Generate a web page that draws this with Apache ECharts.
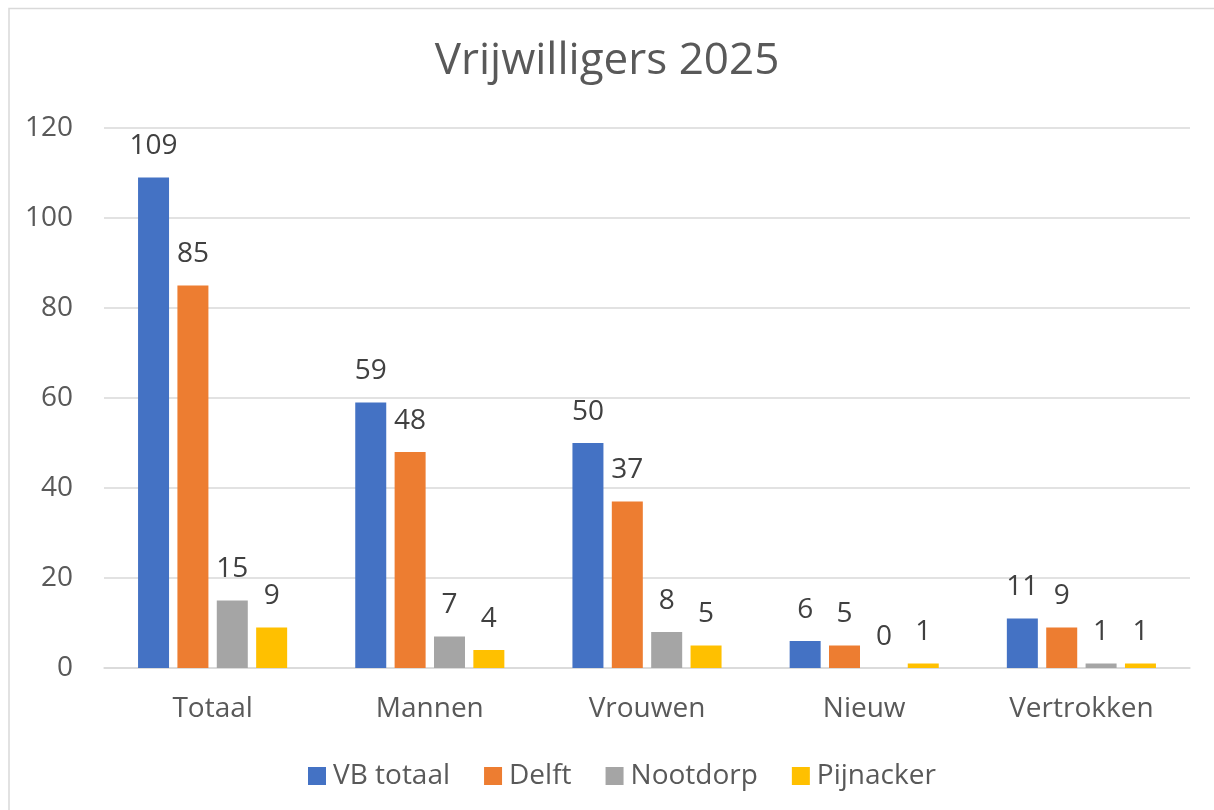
<!DOCTYPE html>
<html style="height: 100%">
<head>
  <meta charset="utf-8">
  <script type="text/javascript" src="https://cdn.jsdelivr.net/npm/echarts@6/dist/echarts.min.js"></script>
</head>
<body style="width: 100%; height: 100%; margin: 0; background: #fff">
<div id="main" style="width: 1214px; height: 810px;"></div>
<script type="text/javascript">

// data
var categories = ['Totaal', 'Mannen', 'Vrouwen', 'Nieuw', 'Vertrokken'];
var vbTotaal  = [109, 59, 50, 6, 11];
var delft     = [85, 48, 37, 5, 9];
var nootdorp  = [15, 7, 8, 0, 1];
var pijnacker = [9, 4, 5, 1, 1];

var seriesNames = ['VB totaal', 'Delft', 'Nootdorp', 'Pijnacker'];
var seriesData = [vbTotaal, delft, nootdorp, pijnacker];
var colors = ['#4472C4', '#ED7D31', '#A5A5A5', '#FFC000'];

var fontName = 'Open Sans';

var myChart = echarts.init(document.getElementById('main'));

var series = seriesNames.map(function (name, i) {
    return {
        name: name,
        type: 'bar',
        data: seriesData[i],
        barWidth: 31,
        barGap: '27%',
        itemStyle: { color: colors[i] },
        label: {
            show: true,
            position: 'top',
            distance: 17,
            color: '#404040',
            fontFamily: fontName,
            fontSize: 28
        }
    };
});

var option = {
    animation: false,
    color: colors,
    title: {
        text: 'Vrijwilligers 2025',
        left: 'center',
        top: 34,
        textStyle: {
            fontFamily: fontName,
            fontSize: 44,
            fontWeight: 'normal',
            color: '#595959'
        }
    },
    legend: {
        top: 757,
        left: 303,
        itemWidth: 18,
        itemHeight: 18,
        itemGap: 34,
        icon: 'rect',
        textStyle: {
            fontFamily: fontName,
            fontSize: 28,
            color: '#595959',
            padding: [0, 0, 0, 2]
        },
        data: seriesNames
    },
    grid: {
        left: 104,
        right: 24,
        top: 128,
        bottom: 142
    },
    xAxis: {
        type: 'category',
        data: categories,
        axisLine: { lineStyle: { color: '#d9d9d9', width: 1.5 } },
        axisTick: { show: false },
        axisLabel: {
            margin: 27,
            fontFamily: fontName,
            fontSize: 28,
            color: '#595959'
        }
    },
    yAxis: {
        type: 'value',
        min: 0,
        max: 120,
        interval: 20,
        axisLine: { show: false },
        axisTick: { show: false },
        splitLine: { lineStyle: { color: '#d9d9d9', width: 1.5 } },
        axisLabel: {
            margin: 31,
            fontFamily: fontName,
            fontSize: 28,
            color: '#595959'
        }
    },
    graphic: [{
        type: 'rect',
        shape: { x: 9, y: 8.5, width: 1230, height: 830 },
        style: { fill: 'none', stroke: '#d9d9d9', lineWidth: 1.5 },
        silent: true
    }],
    series: series
};

myChart.setOption(option);
</script>
</body>
</html>
